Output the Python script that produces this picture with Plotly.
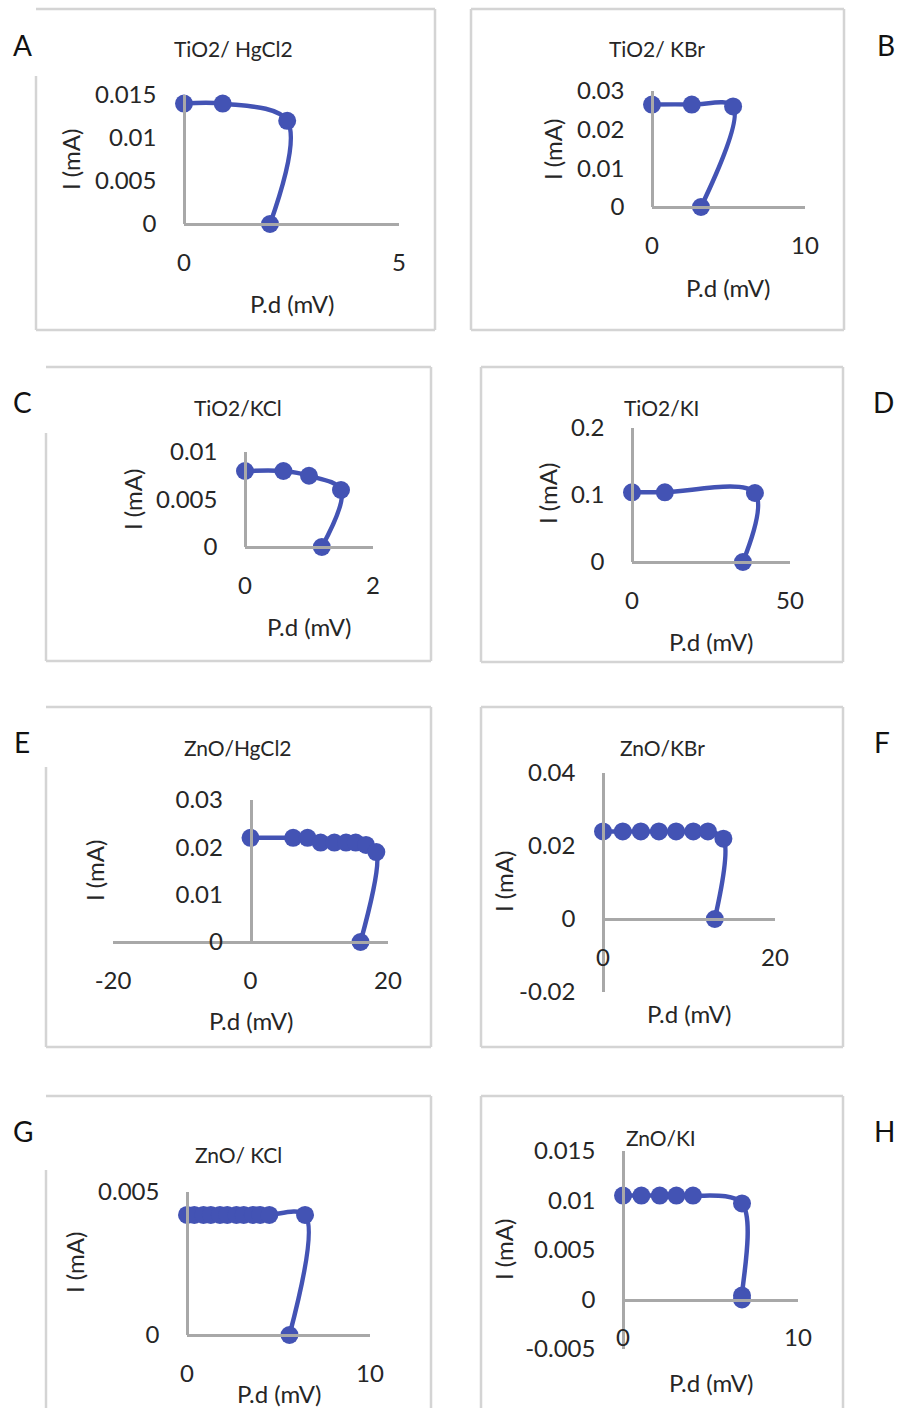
import plotly.graph_objects as go

W, H = 905, 1408

# ---------------- data ----------------
a_x = [0, 0.9, 2.4, 2.0]
a_y = [0.014, 0.014, 0.012, 0]
b_x = [0, 2.6, 5.3, 3.2]
b_y = [0.0265, 0.0265, 0.026, 0]
c_x = [0, 0.6, 1.0, 1.5, 1.2]
c_y = [0.008, 0.008, 0.0075, 0.006, 0]
d_x = [0, 10.4, 38.9, 35.1]
d_y = [0.104, 0.104, 0.103, 0]
e_x = [0, 6.2, 8.3, 10.2, 12.2, 13.9, 15.3, 16.8, 18.3, 16.0]
e_y = [0.022, 0.022, 0.022, 0.021, 0.021, 0.021, 0.021, 0.0205, 0.019, 0]
f_x = [0, 2.3, 4.4, 6.5, 8.5, 10.5, 12.2, 14.0, 13.0]
f_y = [0.024, 0.024, 0.024, 0.024, 0.024, 0.024, 0.024, 0.022, 0]
g_x = [0, 0.4, 0.9, 1.3, 1.8, 2.2, 2.7, 3.1, 3.6, 4.0, 4.5, 6.45, 5.6]
g_y = [0.0042, 0.0042, 0.0042, 0.0042, 0.0042, 0.0042, 0.0042, 0.0042,
       0.0042, 0.0042, 0.0042, 0.0042, 0]
h_x = [0, 1.05, 2.1, 3.05, 4.0, 6.8, 6.8, 6.8]
h_y = [0.0105, 0.0105, 0.0105, 0.0105, 0.0105, 0.0097, 0.0004, 0]

titles = ["TiO2/ HgCl2", "TiO2/ KBr", "TiO2/KCl", "TiO2/KI",
          "ZnO/HgCl2", "ZnO/KBr", "ZnO/ KCl", "ZnO/KI"]
letters = ["A", "B", "C", "D", "E", "F", "G", "H"]
x_title = "P.d (mV)"
y_title = "I (mA)"

a_xt = [0, 5]; a_xl = ["0", "5"]
a_yt = [0, 0.005, 0.01, 0.015]; a_yl = ["0", "0.005", "0.01", "0.015"]
b_xt = [0, 10]; b_xl = ["0", "10"]
b_yt = [0, 0.01, 0.02, 0.03]; b_yl = ["0", "0.01", "0.02", "0.03"]
c_xt = [0, 2]; c_xl = ["0", "2"]
c_yt = [0, 0.005, 0.01]; c_yl = ["0", "0.005", "0.01"]
d_xt = [0, 50]; d_xl = ["0", "50"]
d_yt = [0, 0.1, 0.2]; d_yl = ["0", "0.1", "0.2"]
e_xt = [-20, 0, 20]; e_xl = ["-20", "0", "20"]
e_yt = [0, 0.01, 0.02, 0.03]; e_yl = ["0", "0.01", "0.02", "0.03"]
f_xt = [0, 20]; f_xl = ["0", "20"]
f_yt = [-0.02, 0, 0.02, 0.04]; f_yl = ["-0.02", "0", "0.02", "0.04"]
g_xt = [0, 10]; g_xl = ["0", "10"]
g_yt = [0, 0.005]; g_yl = ["0", "0.005"]
h_xt = [0, 10]; h_xl = ["0", "10"]
h_yt = [-0.005, 0, 0.005, 0.01, 0.015]; h_yl = ["-0.005", "0", "0.005", "0.01", "0.015"]

series = [(a_x, a_y), (b_x, b_y), (c_x, c_y), (d_x, d_y),
          (e_x, e_y), (f_x, f_y), (g_x, g_y), (h_x, h_y)]
ticks = [(a_xt, a_xl, a_yt, a_yl), (b_xt, b_xl, b_yt, b_yl),
         (c_xt, c_xl, c_yt, c_yl), (d_xt, d_xl, d_yt, d_yl),
         (e_xt, e_xl, e_yt, e_yl), (f_xt, f_xl, f_yt, f_yl),
         (g_xt, g_xl, g_yt, g_yl), (h_xt, h_xl, h_yt, h_yl)]

# ---------------- layout (pixel geometry of each panel) ----------------
plot_px = [(184, 399, 95, 224), (652, 805, 91, 207),
           (245, 373, 452, 547), (632, 790, 428, 562),
           (113, 388, 800, 942), (603, 775, 773, 992),
           (187, 370, 1192, 1335), (623, 798, 1151, 1349)]
# borders: left, top, right, bottom (None = open at the page edge)
box_px = [(36, 9, 435, 330), (471, 9, 844, 330),
          (46, 367, 431, 661), (481, 367, 843, 662),
          (46, 707, 431, 1047), (481, 707, 843, 1047),
          (46, 1096, 431, None), (481, 1096, 843, None)]
gap_px = [76, None, 433, None, 767, None, 1170, None]
title_px = [(234, 49), (657, 49), (238, 407), (661, 407),
            (238, 747), (662, 747), (238, 1154), (661, 1137)]
xtitle_px = [(292, 303), (728, 287), (309, 626), (711, 641),
             (251, 1020), (689, 1013), (279, 1393), (711, 1382)]
ytitle_px = [(70, 160), (552, 150), (132, 500), (547, 494),
             (94, 871), (503, 882), (74, 1263), (503, 1250)]
letter_px = [(22, 45), (886, 45), (22, 402), (883, 402),
             (22, 742), (882, 742), (23, 1131), (884, 1131)]

BLUE = "#4353B4"
AXIS = "#A8A8A8"
BORDER = "#D4D4D4"
TXT = "#262626"
FONT = "Lato"


def px(x):
    return x / W


def py(y):
    return 1 - y / H


fig = go.Figure()
shapes = []
annotations = []
layout_axes = {}


def seg(xa, ya, xb, yb, color, width):
    return dict(type="line", xref="paper", yref="paper",
                x0=px(xa), y0=py(ya), x1=px(xb), y1=py(yb),
                line=dict(color=color, width=width), layer="below")


for i in range(8):
    n = i + 1
    xs, ys = series[i]
    xt, xl, yt, yl = ticks[i]
    xmin, xmax = min(xt), max(xt)
    ymin, ymax = min(yt), max(yt)
    x0, x1, yt_px, yb_px = plot_px[i]
    xdom = [px(x0), px(x1)]
    ydom = [py(yb_px), py(yt_px)]
    ypos = xdom[0] + (0 - xmin) / (xmax - xmin) * (xdom[1] - xdom[0])
    xpos = ydom[0] + (0 - ymin) / (ymax - ymin) * (ydom[1] - ydom[0])

    xa = "xaxis" if n == 1 else f"xaxis{n}"
    ya = "yaxis" if n == 1 else f"yaxis{n}"
    layout_axes[xa] = dict(
        domain=xdom, range=[xmin, xmax], anchor="free", position=xpos,
        automargin=False, fixedrange=True,
        showgrid=False, zeroline=False, showline=True, linecolor=AXIS,
        linewidth=2.5, tickvals=xt, ticktext=xl, ticks="",
        ticklabelstandoff=16, tickfont=dict(family=FONT, size=24, color=TXT),
    )
    layout_axes[ya] = dict(
        domain=ydom, range=[ymin, ymax], anchor="free", position=ypos,
        automargin=False, fixedrange=True,
        showgrid=False, zeroline=False, showline=True, linecolor=AXIS,
        linewidth=2.5, tickvals=yt, ticktext=yl, ticks="",
        ticklabelstandoff=22, tickfont=dict(family=FONT, size=24, color=TXT),
    )

    fig.add_trace(go.Scatter(
        x=xs, y=ys, mode="lines+markers",
        line=dict(color=BLUE, width=4.5, shape="spline", smoothing=1.0),
        marker=dict(color=BLUE, size=18),
        cliponaxis=False, showlegend=False, hoverinfo="skip",
        xaxis="x" if n == 1 else f"x{n}", yaxis="y" if n == 1 else f"y{n}",
    ))

    bl, bt, br, bb = box_px[i]
    bottom = bb if bb is not None else H
    left_top = gap_px[i] if gap_px[i] is not None else bt
    shapes.append(seg(bl, bt, br, bt, BORDER, 2.5))
    shapes.append(seg(br, bt, br, bottom, BORDER, 2.5))
    shapes.append(seg(bl, left_top, bl, bottom, BORDER, 2.5))
    if bb is not None:
        shapes.append(seg(bl, bb, br, bb, BORDER, 2.5))

    tx, ty = title_px[i]
    annotations.append(dict(text=titles[i], x=px(tx), y=py(ty), xref="paper",
                            yref="paper", showarrow=False, xanchor="center",
                            yanchor="middle",
                            font=dict(family=FONT, size=21, color=TXT)))
    tx, ty = xtitle_px[i]
    annotations.append(dict(text=x_title, x=px(tx), y=py(ty), xref="paper",
                            yref="paper", showarrow=False, xanchor="center",
                            yanchor="middle",
                            font=dict(family=FONT, size=24, color=TXT)))
    tx, ty = ytitle_px[i]
    annotations.append(dict(text=y_title, x=px(tx), y=py(ty), xref="paper",
                            yref="paper", showarrow=False, xanchor="center",
                            yanchor="middle", textangle=-90,
                            font=dict(family=FONT, size=24, color=TXT)))
    tx, ty = letter_px[i]
    annotations.append(dict(text=letters[i], x=px(tx), y=py(ty), xref="paper",
                            yref="paper", showarrow=False, xanchor="center",
                            yanchor="middle",
                            font=dict(family=FONT, size=28, color="#111111")))

fig.update_layout(
    width=W, height=H, margin=dict(l=0, r=0, t=0, b=0, pad=0),
    paper_bgcolor="white", plot_bgcolor="rgba(0,0,0,0)",
    shapes=shapes, annotations=annotations, showlegend=False,
    **layout_axes,
)

fig.write_html("out.html", config={"displayModeBar": False},
               post_script="document.body.style.margin='0';"
                           "document.body.style.overflow='hidden';")
